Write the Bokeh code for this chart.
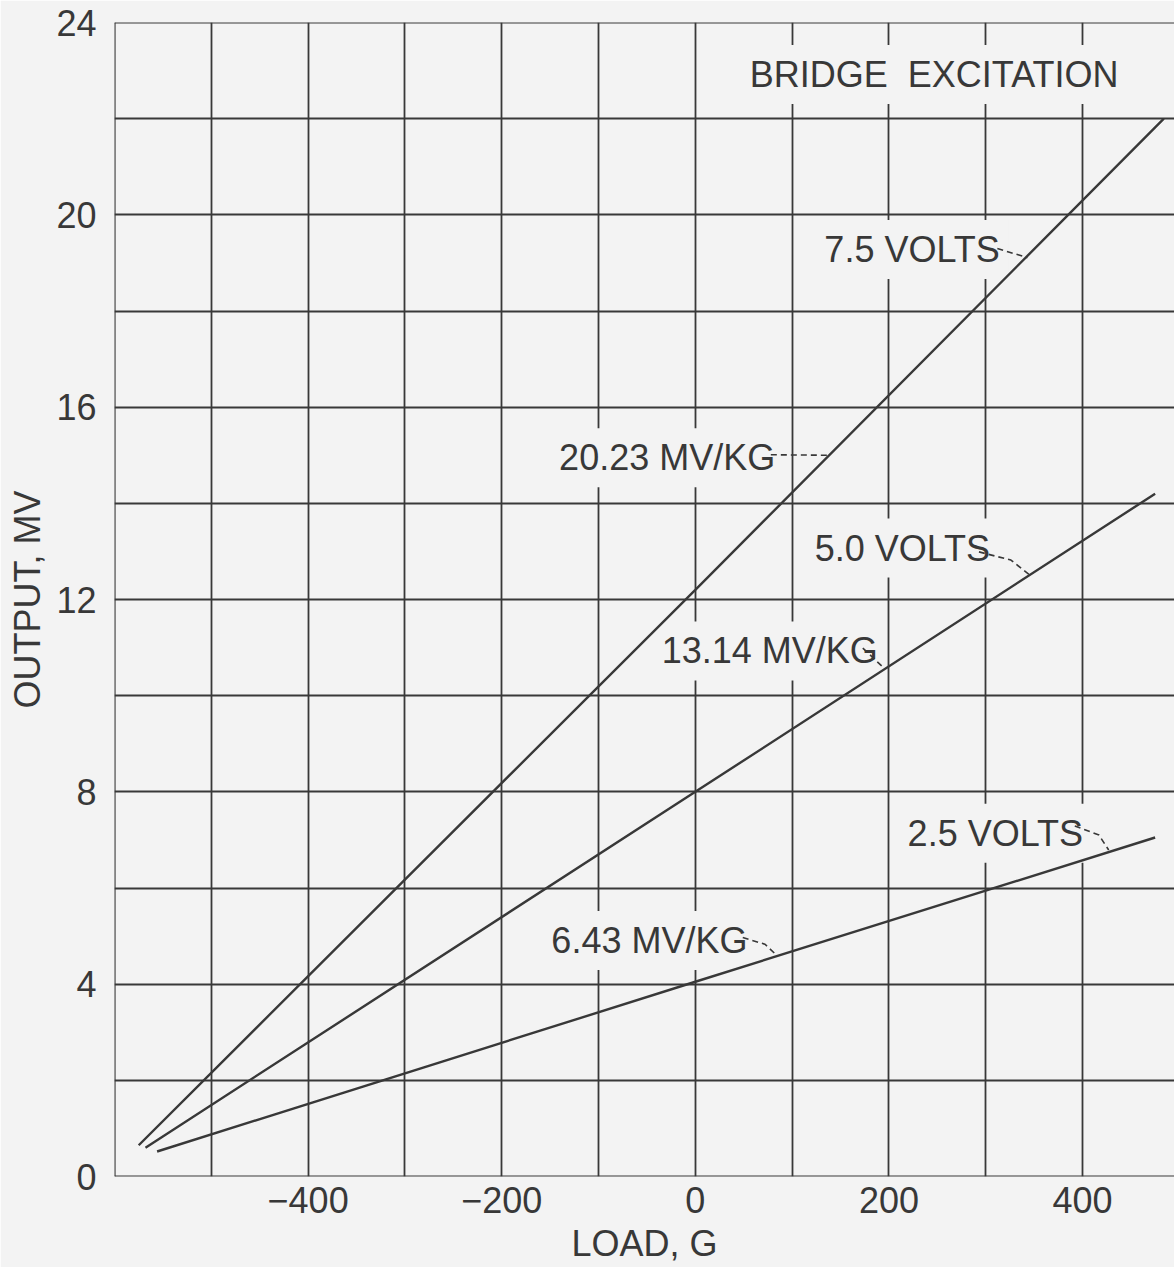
from bokeh.plotting import figure
from bokeh.models import Range1d, FixedTicker, Span, CustomJSTickFormatter, ColumnDataSource
from bokeh.core.properties import value
from bokeh.embed import file_html
from bokeh.resources import INLINE

# ---- data (load in g, output in mV) ----
load_75 = [-575, 0, 484]
out_75 = [0.65, 12.2, 22.0]
load_50 = [-568, 0, 475]
out_50 = [0.6, 8.0, 14.2]
load_25 = [-556, 0, 475]
out_25 = [0.52, 4.05, 7.05]

x_tick_labels = [-400, -200, 0, 200, 400]
y_tick_labels = [0, 4, 8, 12, 16, 20, 24]
x_grid = list(range(-500, 500, 100))
y_grid = list(range(2, 24, 2))

BG = "#f3f3f3"
INK = "#383838"
FONT = "Liberation Sans"

p = figure(width=1174, height=1267, output_backend="svg", toolbar_location=None,
           x_range=Range1d(-600, 495), y_range=Range1d(0, 24),
           min_border_left=114, min_border_right=0, min_border_top=22, min_border_bottom=91)
p.background_fill_color = BG
p.border_fill_color = BG
p.outline_line_color = None

p.xgrid.ticker = FixedTicker(ticks=x_grid)
p.ygrid.ticker = FixedTicker(ticks=y_grid)
for g in (p.xgrid, p.ygrid):
    g.grid_line_color = INK
    g.grid_line_width = 1.8

# frame edges (left, bottom, top)
p.add_layout(Span(location=-600, dimension="height", line_color=INK, line_width=2.2))
p.add_layout(Span(location=0, dimension="width", line_color=INK, line_width=2.2))
p.add_layout(Span(location=24, dimension="width", line_color=INK, line_width=2.0))

p.xaxis.ticker = FixedTicker(ticks=x_tick_labels)
p.yaxis.ticker = FixedTicker(ticks=y_tick_labels)
p.xaxis.formatter = CustomJSTickFormatter(code="return tick < 0 ? '\u2212' + Math.abs(tick) : String(tick);")
for ax in (p.xaxis, p.yaxis):
    ax.axis_line_color = None
    ax.major_tick_line_color = None
    ax.minor_tick_line_color = None
    ax.major_label_text_font = FONT
    ax.major_label_text_font_size = "36px"
    ax.major_label_text_color = INK
    ax.axis_label_text_font = FONT
    ax.axis_label_text_font_size = "36px"
    ax.axis_label_text_font_style = "normal"
    ax.axis_label_text_color = INK
p.xaxis.axis_label = "LOAD, G"
p.yaxis.axis_label = "OUTPUT, MV"
p.xaxis.major_label_standoff = 4
p.xaxis.axis_label_standoff = 7
p.yaxis.major_label_standoff = 12
p.yaxis.axis_label_standoff = 5

# annotation texts with background (drawn under the lines, over the grid)
notes = dict(
    text=["BRIDGE\u00a0\u00a0EXCITATION", "7.5 VOLTS", "20.23 MV/KG", "5.0 VOLTS",
          "13.14 MV/KG", "2.5 VOLTS", "6.43 MV/KG"],
    x=[47, 124, -150, 114, -44, 210, -158],
    y=[22.92, 19.28, 14.95, 13.07, 10.93, 7.14, 4.91],
)
p.text(x="x", y="y", text="text", source=ColumnDataSource(notes),
       text_align="left", text_baseline="middle",
       text_font=value(FONT), text_font_size="36px", text_color=INK,
       background_fill_color=BG, padding=9)

# dashed leaders (annotation geometry)
leaders = [
    ([312, 343], [19.30, 19.11]),
    ([78, 138], [15.01, 15.0]),
    ([293, 326, 346], [12.99, 12.82, 12.5]),
    ([173, 195], [10.99, 10.57]),
    ([392, 417, 427], [7.29, 7.10, 6.79]),
    ([49, 72, 84], [4.97, 4.83, 4.60]),
]
for xs, ys in leaders:
    p.line(xs, ys, line_color=INK, line_width=1.6, line_dash="6 4")

for xs, ys in ((load_75, out_75), (load_50, out_50), (load_25, out_25)):
    p.line(xs, ys, line_color=INK, line_width=2.4)

open("out.html", "w").write(file_html(p, INLINE))
